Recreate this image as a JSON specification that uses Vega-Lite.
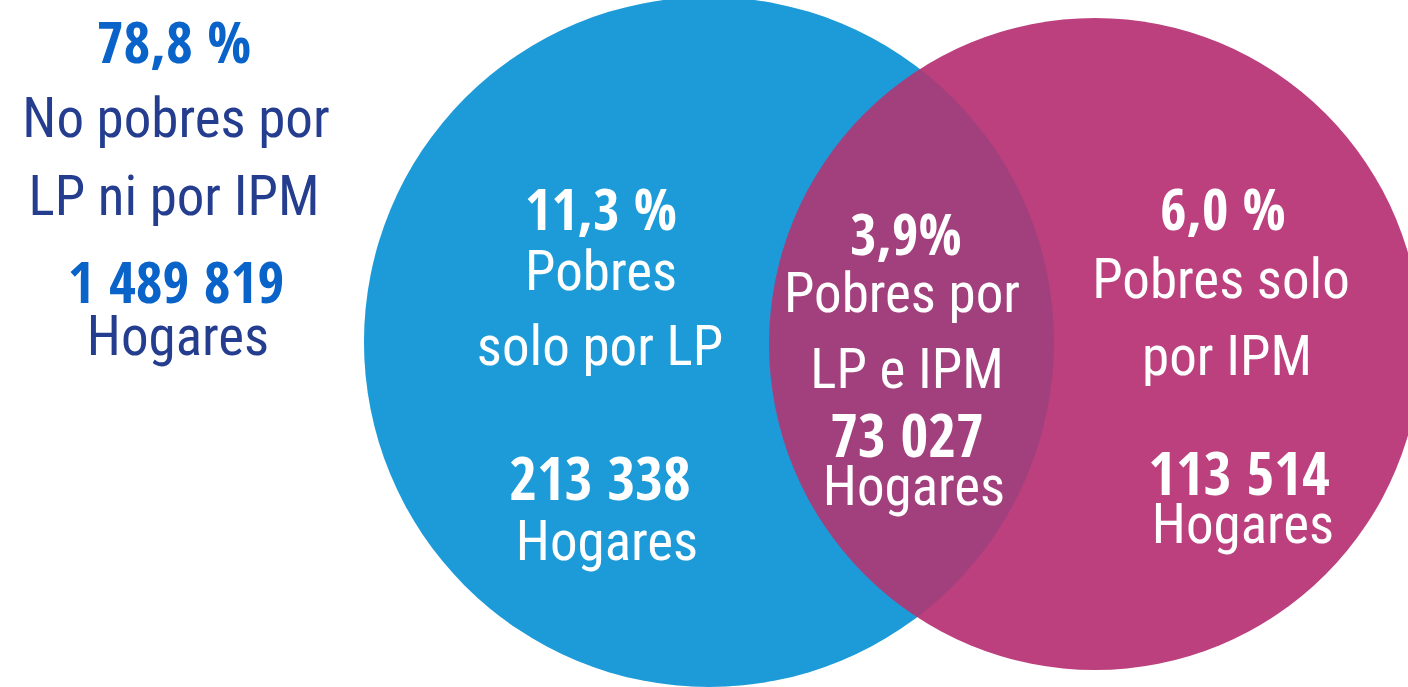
{
  "$schema": "https://vega.github.io/schema/vega-lite/v6.json",
  "width": 1408,
  "height": 687,
  "autosize": {"type": "none"},
  "padding": 0,
  "background": "white",
  "config": {"view": {"stroke": null}, "text": {"align": "center", "baseline": "alphabetic"}},
  "datasets": {
    "circles": [
      {"set": "LP", "cx": 709, "cy": 342},
      {"set": "IPM", "cx": 1095, "cy": 344}
    ],
    "labels": [
      {"t": "78,8 %", "x": 174, "y": 63, "block": "left", "kind": "pct"},
      {"t": "No pobres por", "x": 176, "y": 137, "block": "left", "kind": "desc"},
      {"t": "LP ni por IPM", "x": 174, "y": 215, "block": "left", "kind": "desc"},
      {"t": "1 489 819", "x": 176, "y": 303, "block": "left", "kind": "count"},
      {"t": "Hogares", "x": 178, "y": 355, "block": "left", "kind": "desc"},
      {"t": "11,3 %", "x": 601, "y": 230, "block": "LP", "kind": "pct"},
      {"t": "Pobres", "x": 601, "y": 290, "block": "LP", "kind": "desc"},
      {"t": "solo por LP", "x": 600, "y": 365, "block": "LP", "kind": "desc"},
      {"t": "213 338", "x": 600, "y": 500, "block": "LP", "kind": "count"},
      {"t": "Hogares", "x": 607, "y": 560, "block": "LP", "kind": "desc"},
      {"t": "3,9%", "x": 906, "y": 255, "block": "both", "kind": "pct"},
      {"t": "Pobres por", "x": 902, "y": 312, "block": "both", "kind": "desc"},
      {"t": "LP e IPM", "x": 907, "y": 388, "block": "both", "kind": "desc"},
      {"t": "73 027", "x": 907, "y": 457, "block": "both", "kind": "count"},
      {"t": "Hogares", "x": 914, "y": 505, "block": "both", "kind": "desc"},
      {"t": "6,0 %", "x": 1223, "y": 230, "block": "IPM", "kind": "pct"},
      {"t": "Pobres solo", "x": 1221, "y": 298, "block": "IPM", "kind": "desc"},
      {"t": "por IPM", "x": 1227, "y": 375, "block": "IPM", "kind": "desc"},
      {"t": "113 514", "x": 1239, "y": 495, "block": "IPM", "kind": "count"},
      {"t": "Hogares", "x": 1243, "y": 543, "block": "IPM", "kind": "desc"}
    ]
  },
  "encoding": {
    "x": {"type": "quantitative", "scale": {"domain": [0, 1408], "nice": false, "zero": false}, "axis": null},
    "y": {"type": "quantitative", "scale": {"domain": [0, 687], "nice": false, "zero": false, "reverse": true}, "axis": null}
  },
  "layer": [
    {
      "data": {"name": "circles"},
      "transform": [{"filter": "datum.set === 'LP'"}],
      "mark": {"type": "point", "shape": "circle", "filled": true, "size": 476100, "color": "#1C9BD8", "opacity": 1, "strokeWidth": 0},
      "encoding": {"x": {"field": "cx", "type": "quantitative"}, "y": {"field": "cy", "type": "quantitative"}}
    },
    {
      "data": {"name": "circles"},
      "transform": [{"filter": "datum.set === 'IPM'"}],
      "mark": {"type": "point", "shape": "circle", "filled": true, "size": 425104, "color": "#BB407D", "opacity": 1, "strokeWidth": 0},
      "encoding": {"x": {"field": "cx", "type": "quantitative"}, "y": {"field": "cy", "type": "quantitative"}}
    },
    {
      "data": {"name": "circles"},
      "transform": [{"filter": "datum.set === 'LP'"}],
      "mark": {"type": "point", "shape": "circle", "filled": true, "size": 476100, "color": "#1C9BD8", "opacity": 0.16, "blend": "darken", "strokeWidth": 0},
      "encoding": {"x": {"field": "cx", "type": "quantitative"}, "y": {"field": "cy", "type": "quantitative"}}
    },
    {
      "data": {"name": "labels"},
      "transform": [{"filter": "datum.block === 'left' && datum.kind !== 'desc'"}],
      "mark": {"type": "text", "font": "Open Sans Condensed", "fontWeight": "bold", "fontSize": 58, "fill": "#0A63C9"},
      "encoding": {"x": {"field": "x", "type": "quantitative"}, "y": {"field": "y", "type": "quantitative"}, "text": {"field": "t"}}
    },
    {
      "data": {"name": "labels"},
      "transform": [{"filter": "datum.block === 'left' && datum.kind === 'desc'"}],
      "mark": {"type": "text", "font": "Roboto Condensed", "fontWeight": "normal", "fontSize": 55, "fill": "#243D8F"},
      "encoding": {"x": {"field": "x", "type": "quantitative"}, "y": {"field": "y", "type": "quantitative"}, "text": {"field": "t"}}
    },
    {
      "data": {"name": "labels"},
      "transform": [{"filter": "datum.block !== 'left' && datum.kind === 'pct'"}],
      "mark": {"type": "text", "font": "Open Sans Condensed", "fontWeight": "bold", "fontSize": 57, "fill": "#FFFFFF"},
      "encoding": {"x": {"field": "x", "type": "quantitative"}, "y": {"field": "y", "type": "quantitative"}, "text": {"field": "t"}}
    },
    {
      "data": {"name": "labels"},
      "transform": [{"filter": "datum.block !== 'left' && datum.kind === 'count'"}],
      "mark": {"type": "text", "font": "Open Sans Condensed", "fontWeight": "bold", "fontSize": 60, "fill": "#FFFFFF"},
      "encoding": {"x": {"field": "x", "type": "quantitative"}, "y": {"field": "y", "type": "quantitative"}, "text": {"field": "t"}}
    },
    {
      "data": {"name": "labels"},
      "transform": [{"filter": "datum.block !== 'left' && datum.kind === 'desc'"}],
      "mark": {"type": "text", "font": "Roboto Condensed", "fontWeight": "normal", "fontSize": 55, "fill": "#FFFFFF"},
      "encoding": {"x": {"field": "x", "type": "quantitative"}, "y": {"field": "y", "type": "quantitative"}, "text": {"field": "t"}}
    }
  ]
}
